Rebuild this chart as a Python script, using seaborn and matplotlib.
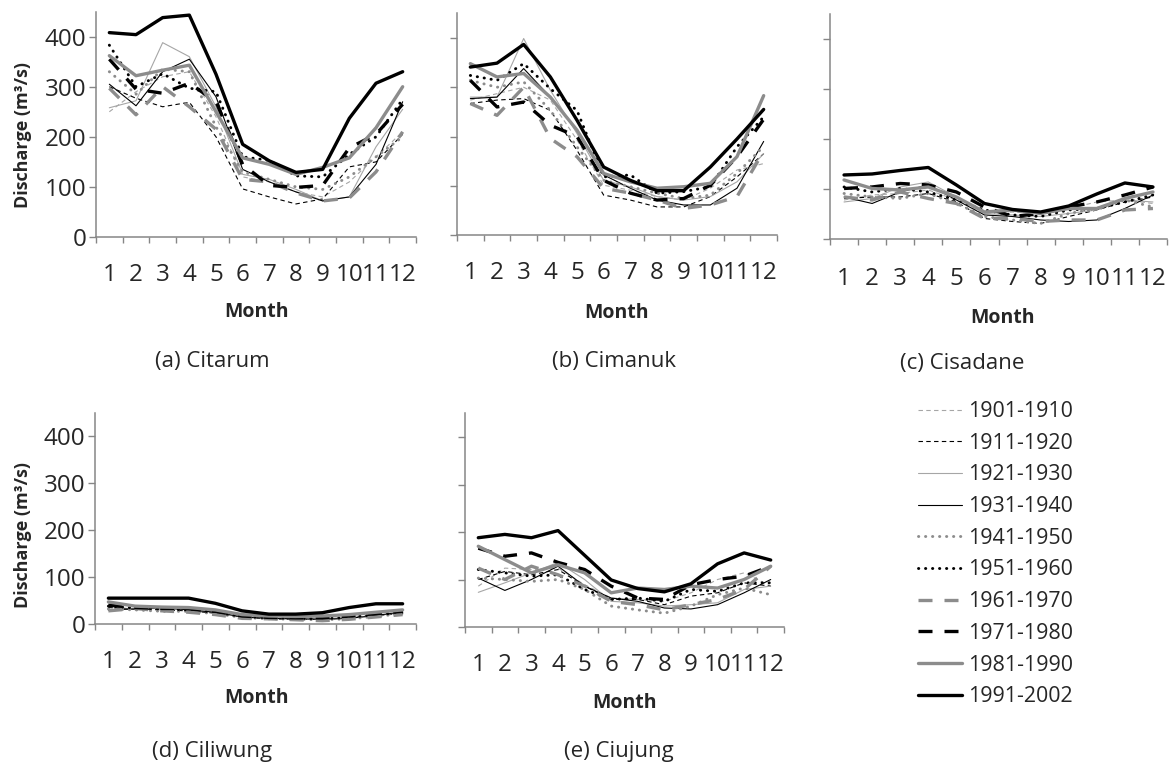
import matplotlib
matplotlib.use("Agg")
import matplotlib.pyplot as plt
import seaborn as sns

# Monthly mean discharge (m3/s) per decade
months = list(range(1, 13))
decades = ["1901-1910", "1911-1920", "1921-1930", "1931-1940", "1941-1950",
           "1951-1960", "1961-1970", "1971-1980", "1981-1990", "1991-2002"]

citarum = [
    [250, 290, 320, 330, 240, 120, 110, 90, 80, 110, 160, 210],
    [300, 277, 260, 269, 200, 96, 80, 66, 76, 140, 150, 205],
    [258, 272, 388, 360, 260, 125, 115, 95, 72, 80, 180, 255],
    [305, 262, 330, 355, 280, 135, 110, 90, 72, 80, 145, 270],
    [330, 285, 335, 330, 220, 130, 115, 100, 95, 120, 160, 200],
    [383, 300, 326, 297, 290, 160, 153, 122, 120, 165, 200, 275],
    [297, 244, 300, 260, 215, 115, 110, 88, 72, 78, 130, 210],
    [355, 295, 287, 307, 270, 145, 103, 99, 103, 178, 205, 265],
    [362, 322, 333, 343, 250, 158, 145, 125, 139, 158, 218, 300],
    [408, 404, 438, 443, 325, 185, 152, 129, 135, 237, 307, 330],
]
cimanuk = [
    [274, 287, 300, 274, 193, 101, 91, 78, 71, 95, 132, 145],
    [267, 274, 277, 253, 172, 81, 71, 57, 57, 78, 118, 165],
    [280, 280, 399, 294, 206, 111, 98, 78, 71, 78, 108, 165],
    [277, 280, 338, 280, 213, 122, 95, 71, 61, 61, 95, 190],
    [314, 300, 311, 253, 179, 111, 98, 85, 74, 81, 125, 180],
    [324, 314, 348, 297, 253, 118, 122, 85, 88, 98, 179, 240],
    [267, 243, 300, 196, 159, 95, 85, 71, 54, 61, 78, 170],
    [314, 260, 270, 223, 200, 111, 85, 71, 74, 101, 159, 235],
    [348, 321, 328, 280, 213, 125, 108, 95, 98, 105, 159, 283],
    [341, 349, 387, 321, 233, 138, 111, 90, 90, 138, 195, 255],
]
cisadane = [
    [78, 88, 91, 98, 78, 51, 54, 51, 61, 74, 78, 71],
    [81, 84, 84, 91, 74, 41, 35, 31, 45, 58, 74, 84],
    [74, 81, 104, 114, 84, 51, 48, 45, 51, 58, 78, 74],
    [84, 71, 94, 108, 78, 48, 45, 38, 35, 38, 61, 88],
    [91, 84, 81, 91, 71, 45, 38, 31, 51, 61, 78, 64],
    [104, 94, 101, 94, 78, 58, 48, 45, 58, 61, 74, 88],
    [84, 78, 94, 81, 71, 41, 41, 35, 38, 38, 58, 61],
    [101, 104, 111, 108, 94, 64, 45, 51, 64, 74, 88, 104],
    [118, 101, 98, 104, 84, 54, 58, 51, 61, 61, 81, 94],
    [128, 130, 137, 143, 108, 71, 59, 54, 66, 90, 112, 104],
]
ciliwung = [
    [30, 32, 32, 30, 24, 15, 12, 11, 11, 14, 19, 23],
    [35, 32, 30, 28, 23, 14, 11, 10, 10, 13, 18, 22],
    [30, 33, 33, 30, 25, 15, 12, 11, 11, 13, 18, 24],
    [30, 32, 35, 30, 25, 15, 12, 11, 10, 12, 18, 26],
    [32, 30, 27, 27, 22, 14, 11, 10, 9, 11, 16, 22],
    [38, 34, 32, 30, 25, 16, 13, 12, 11, 14, 20, 24],
    [28, 33, 28, 25, 20, 12, 11, 9, 7, 10, 15, 20],
    [40, 35, 33, 33, 27, 17, 14, 13, 13, 17, 22, 27],
    [47, 38, 36, 35, 30, 20, 17, 16, 17, 20, 25, 30],
    [55, 55, 55, 55, 44, 28, 21, 21, 24, 35, 43, 43],
]
ciujung = [
    [86, 124, 121, 124, 89, 61, 58, 54, 72, 100, 114, 86],
    [100, 117, 110, 121, 86, 58, 58, 47, 65, 72, 93, 86],
    [73, 93, 114, 136, 100, 54, 51, 44, 47, 51, 79, 86],
    [103, 77, 100, 128, 86, 61, 54, 40, 38, 47, 72, 100],
    [103, 100, 96, 100, 79, 44, 36, 29, 44, 68, 82, 68],
    [121, 114, 107, 110, 79, 58, 61, 54, 79, 75, 93, 93],
    [124, 100, 128, 110, 86, 54, 47, 36, 47, 58, 79, 128],
    [166, 149, 156, 136, 121, 86, 61, 58, 89, 100, 107, 128],
    [170, 142, 114, 131, 114, 72, 82, 79, 86, 82, 100, 128],
    [188, 195, 188, 203, 151, 99, 81, 74, 91, 133, 156, 141],
]

rivers = [citarum, cimanuk, cisadane, ciliwung, ciujung]
captions = ["(a) Citarum", "(b) Cimanuk", "(c) Cisadane", "(d) Ciliwung", "(e) Ciujung"]
yticks = [0, 100, 200, 300, 400]

GREY = "#8c8c8c"
LIGHT = "#a6a6a6"
styles = [
    dict(color=LIGHT, linewidth=0.8, linestyle=(0, (4, 3))),
    dict(color="black", linewidth=0.8, linestyle=(0, (4, 3))),
    dict(color=LIGHT, linewidth=0.8, linestyle="-"),
    dict(color="black", linewidth=0.8, linestyle="-"),
    dict(color=GREY, linewidth=2.1, linestyle=(0, (0.1, 2.3)), dash_capstyle="round"),
    dict(color="black", linewidth=2.1, linestyle=(0, (0.1, 2.3)), dash_capstyle="round"),
    dict(color=GREY, linewidth=2.4, linestyle=(0, (4.2, 3.6))),
    dict(color="black", linewidth=2.4, linestyle=(0, (4.2, 3.6))),
    dict(color=GREY, linewidth=2.4, linestyle="-"),
    dict(color="black", linewidth=2.4, linestyle="-"),
]

sns.set_theme(style="white")
plt.rcParams["font.family"] = ["Open Sans", "DejaVu Sans"]

W, H = 1171, 766
fig = plt.figure(figsize=(W / 100, H / 100), dpi=100)

# axes boxes in pixels: left, right, top (value 450), bottom (value 0)
boxes = [(96, 416, 11.6, 237), (457, 777, 13.4, 235), (830, 1167, 13.9, 239),
         (95, 416, 412.5, 624), (465, 784, 413.3, 627)]
label_pads = [19, 19, 20.3, 19, 19]
month_pos = [(257, 312), (617, 313), (1003, 318), (257, 698), (625, 703)]
caption_pos = [(212, 362), (614, 362), (962, 364), (212, 752), (619, 752)]

SPINE = "#868686"
axes = []
for i, (l, r, t, b) in enumerate(boxes):
    ax = fig.add_axes([l / W, 1 - b / H, (r - l) / W, (b - t) / H])
    for d, vals in enumerate(rivers[i]):
        sns.lineplot(x=months, y=vals, ax=ax, errorbar=None, **styles[d])
    ax.set_xlim(0.5, 12.5)
    ax.set_ylim(0, 450)
    ax.set_xticks(months)
    ax.set_xticks([m + 0.5 for m in range(0, 13)], minor=True)
    ax.set_xticklabels([str(m) for m in months], fontsize=17.4)
    ax.tick_params(axis="x", which="major", length=0, pad=label_pads[i])
    ax.tick_params(axis="x", which="minor", length=4.5, width=1, color=SPINE,
                   direction="out", bottom=True)
    ax.set_yticks(yticks)
    ax.tick_params(axis="y", length=5, width=1, color=SPINE, direction="out",
                   left=True, pad=2, labelsize=17.4)
    if i not in (0, 3):
        ax.set_yticklabels([])
    for side in ("top", "right"):
        ax.spines[side].set_visible(False)
    for side in ("left", "bottom"):
        ax.spines[side].set_color(SPINE)
        ax.spines[side].set_linewidth(1.1)
    ax.set_xlabel("")
    ax.set_ylabel("")
    ax.grid(False)
    mx, my = month_pos[i]
    fig.text(mx / W, 1 - my / H, "Month", fontsize=14, fontweight="bold",
             ha="center", va="center")
    cx, cy = caption_pos[i]
    fig.text(cx / W, 1 - cy / H, captions[i], fontsize=16, ha="center", va="center")
    axes.append(ax)

for yc in (135, 535):
    fig.text(23 / W, 1 - yc / H, "Discharge (m³/s)", fontsize=13, fontweight="bold",
             rotation=90, ha="center", va="center")

handles = axes[4].get_lines()[:len(decades)]
fig.legend(handles, decades, loc="upper left", bbox_to_anchor=(918 / W, 1 - 401 / H),
           frameon=False, fontsize=15.4, handlelength=2.06, handletextpad=0.28,
           labelspacing=0.5, borderpad=0, borderaxespad=0)

fig.savefig("out.png", dpi=100)
